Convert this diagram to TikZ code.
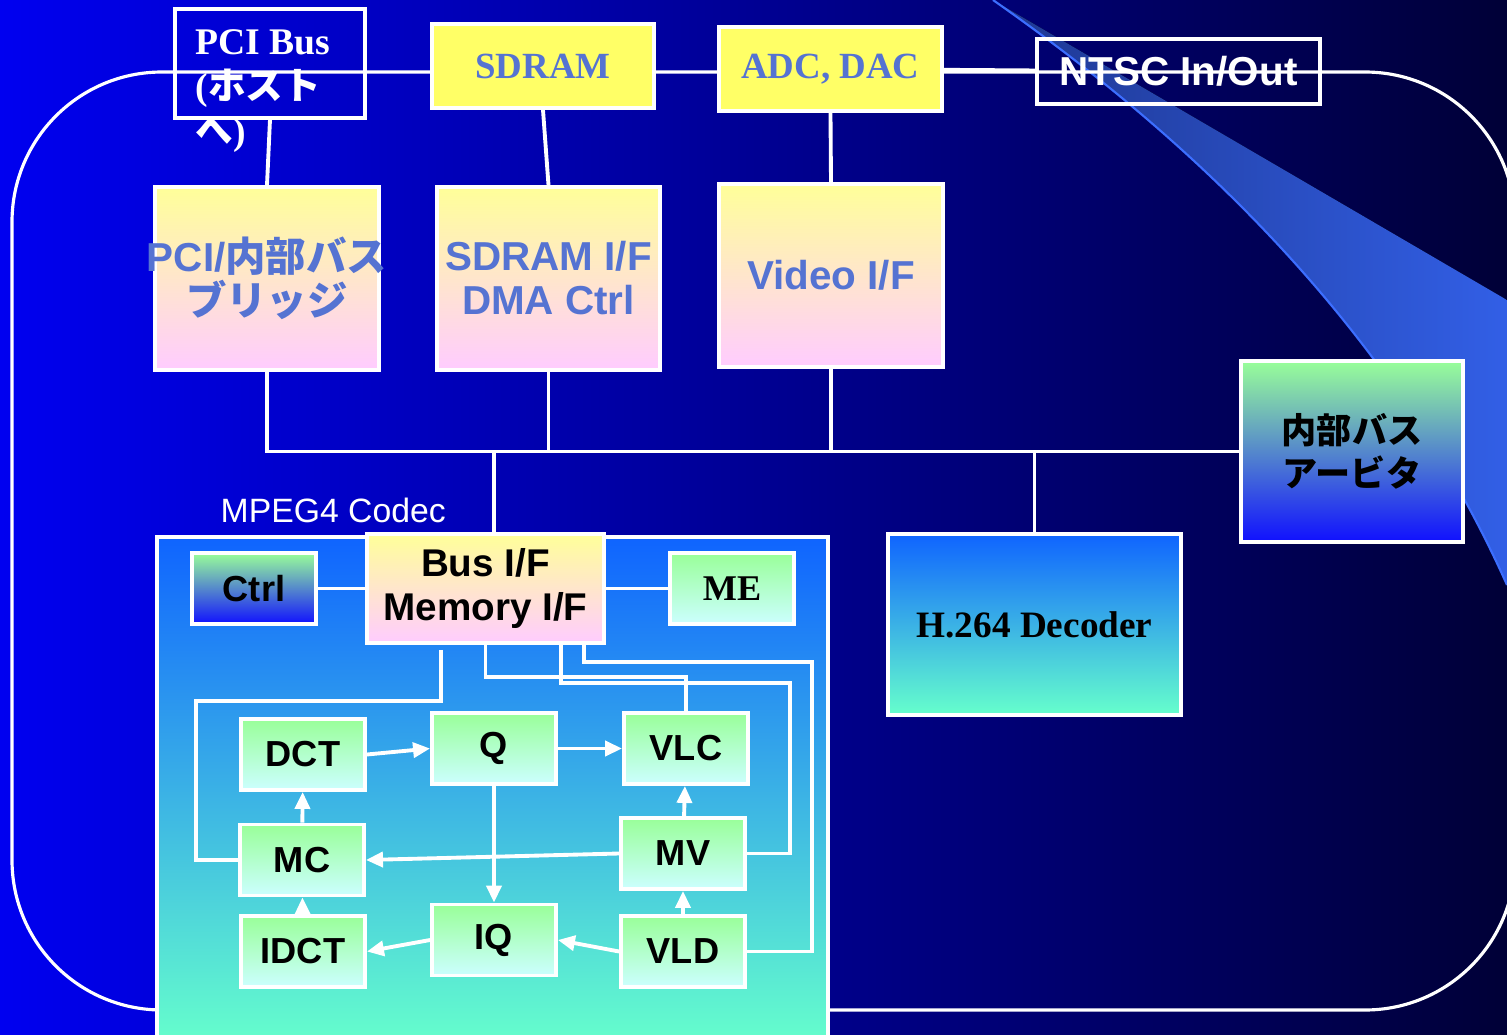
\documentclass[tikz,border=0pt]{standalone}
\usepackage{fontspec}
\setmainfont{Liberation Serif}
\setsansfont{Liberation Sans}
\newfontfamily\jpfont{Noto Sans CJK JP}
\usetikzlibrary{arrows.meta}
\newcommand{\jpt}[1]{{\jpfont\bfseries #1}}
\definecolor{bgleft}{RGB}{0,0,240}
\definecolor{bgright}{RGB}{0,0,55}
\definecolor{swA}{RGB}{30,55,145}
\definecolor{swB}{RGB}{50,95,230}
\definecolor{swedge}{RGB}{60,110,255}
\definecolor{ltblue}{RGB}{85,115,210}
\definecolor{ylw}{RGB}{255,255,102}
\definecolor{ylwl}{RGB}{255,255,153}
\definecolor{pnk}{RGB}{255,204,255}
\definecolor{grn}{RGB}{153,255,153}
\definecolor{cyn}{RGB}{204,255,255}
\definecolor{blu}{RGB}{16,16,255}
\definecolor{skyt}{RGB}{15,100,255}
\definecolor{aqua}{RGB}{102,255,204}

\begin{document}
\begin{tikzpicture}[x=0.1mm,y=-0.1mm]
\tikzstyle{unit}=[draw=white,line width=1.1pt,inner sep=0pt,align=center]
\tikzstyle{chip}=[unit,fill=ylw,minimum width=2.22cm,minimum height=0.84cm,text=ltblue,font=\bfseries\fontsize{10.5}{12}\selectfont]
\tikzstyle{bridgebox}=[unit,top color=ylwl,bottom color=pnk,minimum width=2.24cm,minimum height=1.83cm,text=ltblue,font=\sffamily\bfseries\fontsize{11.5}{12.5}\selectfont]
\tikzstyle{stage}=[unit,top color=grn,bottom color=cyn,minimum width=1.24cm,minimum height=0.71cm,font=\sffamily\bfseries\fontsize{10.3}{12}\selectfont]
\tikzstyle{wire}=[white,line width=1.1pt]
\tikzstyle{flow}=[wire,-{Triangle[length=1.7mm,width=1.5mm]}]

\useasboundingbox (0,0) rectangle (1507,1035);
\clip (0,0) rectangle (1507,1035);
\fill[left color=bgleft,right color=bgright] (0,0) rectangle (1507,1035);
\fill[left color=swA,right color=swB] (993,0) -- (1507,300) -- (1507,585) .. controls (1380,300) and (1150,110) .. (993,0) -- cycle;
\draw[swedge,line width=0.6pt] (1507,585) .. controls (1380,300) and (1150,110) .. (993,0);
\draw[white,line width=0.9pt,rounded corners=15mm] (12,72) rectangle (1515,1010);

\node[unit,line width=0.9pt,minimum width=1.9cm,minimum height=1.09cm] (pcibus) at (270,63.5) {};
\node[anchor=north west,align=left,inner sep=0pt,text=white,font=\bfseries\fontsize{10.7}{12.8}\selectfont] (hostlbl) at (195,29) {PCI Bus\\(\jpt{ホスト}\\\jpt{へ})};
\node[chip] (sdram) at (543,66) {SDRAM};
\node[chip,minimum width=2.23cm] (adc) at (830.5,69) {ADC, DAC};
\node[unit,line width=0.9pt,minimum width=2.83cm,minimum height=0.65cm,text=white,font=\sffamily\bfseries\fontsize{11.5}{12}\selectfont] (ntsc) at (1178.5,71.5) {NTSC In/Out};

\node[bridgebox] (bridge) at (267,278.5) {\makebox[0pt][c]{PCI/\jpt{内部バス}}\\\jpt{ブリッジ}};
\node[bridgebox,minimum width=2.23cm] (sdramif) at (548.5,278.5) {SDRAM I/F\\DMA Ctrl};
\node[bridgebox] (videoif) at (831,275.5) {Video I/F};
\node[unit,top color=grn,bottom color=blu,minimum width=2.22cm,minimum height=1.81cm,font=\fontsize{10}{12.2}\selectfont] (arbiter) at (1352,451.5) {\jpt{内部バス}\\\jpt{アービタ}};
\node[unit,top color=skyt,bottom color=aqua,minimum width=2.93cm,minimum height=1.81cm,font=\bfseries\fontsize{10.6}{12}\selectfont] (h264) at (1034.5,624.5) {H.264 Decoder};

\node[unit,top color=skyt,bottom color=aqua,minimum width=6.71cm,minimum height=5.08cm] (codec) at (492.5,791) {};
\node[anchor=base west,inner sep=0pt,text=white,font=\sffamily\fontsize{9.6}{12}\selectfont] (codeclbl) at (220,522) {MPEG4 Codec};

\node[stage,bottom color=blu] (ctrl) at (254,588.5) {Ctrl};
\node[unit,top color=ylwl,bottom color=pnk,minimum width=2.37cm,minimum height=1.09cm,font=\sffamily\bfseries\fontsize{11}{12.8}\selectfont] (busif) at (485.5,588.5) {Bus I/F\\Memory I/F};
\node[stage,font=\bfseries\fontsize{10.3}{12}\selectfont] (me) at (732,588.5) {ME};
\node[stage] (dct) at (303,754.5) {DCT};
\node[stage] (q) at (494,748.5) {Q};
\node[stage] (vlc) at (686,748.5) {VLC};
\node[stage] (mc) at (302,860) {MC};
\node[stage] (mv) at (683,853.5) {MV};
\node[stage] (idct) at (303,951.5) {IDCT};
\node[stage] (iq) at (494,940) {IQ};
\node[stage] (vld) at (683,951.5) {VLD};

\draw[wire] (adc) -- (ntsc);
\draw[wire] (pcibus.south) -- (bridge.north);
\draw[wire] (sdram.south) -- (sdramif.north);
\draw[wire] (adc.south) -- (videoif.north);
\draw[wire] (bridge.south) |- (arbiter.west);
\draw[wire] (sdramif.south) -- (sdramif.south |- arbiter.west);
\draw[wire] (videoif.south) -- (videoif.south |- arbiter.west);
\draw[wire] (h264.north) -- (h264.north |- arbiter.west);
\draw[wire] ([xshift=0.85mm]busif.north) -- ([xshift=0.85mm]busif.north |- arbiter.west);

\draw[wire] (ctrl) -- (busif);
\draw[wire] (busif) -- (me);
\draw[wire] ([xshift=-4.45mm,yshift=-0.5mm]busif.south) |- (196,701) |- (mc.west);
\draw[wire] (busif.south) |- (vlc.north |- 0,677) -- (vlc.north);
\draw[wire] ([xshift=7.55mm]busif.south) |- (790,683) |- (mv.east);
\draw[wire] ([xshift=9.85mm]busif.south) |- (812,662) |- (vld.east);

\draw[flow] (dct.east) -- (q.west);
\draw[flow] (q) -- (vlc);
\draw[flow] (q) -- (iq);
\draw[flow] (mc) -- (dct);
\draw[flow] (mv) -- (vlc);
\draw[flow] (mv.west) -- (mc.east);
\draw[flow] (vld) -- (mv);
\draw[flow] (vld.west) -- (iq.east);
\draw[flow] (iq.west) -- (idct.east);
\draw[flow] (idct) -- (mc);
\end{tikzpicture}
\end{document}
